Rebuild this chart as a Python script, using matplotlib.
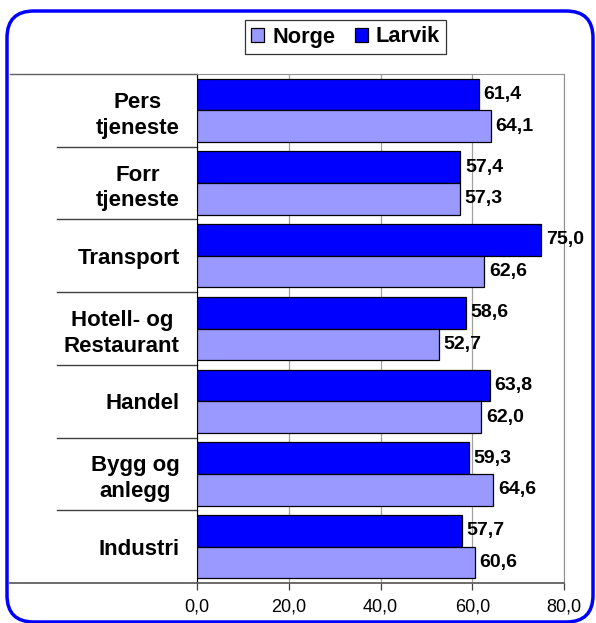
import matplotlib
matplotlib.use("Agg")
import matplotlib.pyplot as plt
from matplotlib.patches import FancyBboxPatch
from matplotlib.lines import Line2D
import numpy as np

plt.rcParams['font.family'] = ['Liberation Sans', 'DejaVu Sans']

categories = ["Pers\ntjeneste", "Forr\ntjeneste", "Transport", "Hotell- og\nRestaurant",
              "Handel", "Bygg og\nanlegg", "Industri"]
larvik = [61.4, 57.4, 75.0, 58.6, 63.8, 59.3, 57.7]
norge = [64.1, 57.3, 62.6, 52.7, 62.0, 64.6, 60.6]
xticks = [0, 20, 40, 60, 80]
xticklabels = ["0,0", "20,0", "40,0", "60,0", "80,0"]

W, H = 596, 623
L, R, T, B = 197, 564, 74, 583
fig = plt.figure(figsize=(W / 100, H / 100), dpi=100)
ax = fig.add_axes([L / W, 1 - B / H, (R - L) / W, (B - T) / H])

n = len(categories)
pos = np.arange(n)[::-1]  # top category at highest y
h = 0.435
ax.barh(pos + h / 2, larvik, height=h, color="#0000FF", edgecolor="black", linewidth=0.9,
        label="Larvik", zorder=3)
ax.barh(pos - h / 2, norge, height=h, color="#9999FF", edgecolor="black", linewidth=0.9,
        label="Norge", zorder=3)

def fmt(v):
    return f"{v:.1f}".replace(".", ",")

for p, v in zip(pos, larvik):
    ax.text(v + 1.0, p + h / 2, fmt(v), va="center", ha="left", fontsize=14,
            fontweight="bold", zorder=4)
for p, v in zip(pos, norge):
    ax.text(v + 1.0, p - h / 2, fmt(v), va="center", ha="left", fontsize=14,
            fontweight="bold", zorder=4)

ax.set_xlim(0, 80)
ax.set_ylim(-0.5, n - 0.5)
ax.set_xticks(xticks)
ax.set_xticklabels(xticklabels, fontsize=13)
ax.xaxis.grid(True, color="#A0A0A0", linewidth=0.9, zorder=0)

# category labels
ax.set_yticks(pos)
ax.set_yticklabels(categories, fontsize=16, fontweight="bold", ha="right",
                   multialignment="center", linespacing=1.3)
ax.tick_params(axis="y", length=0, pad=12.5)
ax.tick_params(axis="x", length=5, width=0.9, direction="out", pad=6, color="#404040")

# category divider lines extending to the left
ytr = ax.get_yaxis_transform()
x_div = (57 - L) / (R - L)
x_edge = (10 - L) / (R - L)
for b in np.arange(0.5, n - 1, 1.0):
    ax.add_line(Line2D([x_div, 0], [b, b], transform=ytr, color="#404040",
                       linewidth=1.0, clip_on=False, zorder=1))
ax.add_line(Line2D([x_edge, 0], [n - 0.5, n - 0.5], transform=ytr, color="#606060",
                   linewidth=1.0, clip_on=False, zorder=1))
ax.add_line(Line2D([x_edge, 0], [-0.5, -0.5], transform=ytr, color="#606060",
                   linewidth=1.3, clip_on=False, zorder=1))

for s in ["top", "right"]:
    ax.spines[s].set_color("#909090")
ax.spines["left"].set_color("black")
ax.spines["bottom"].set_color("#606060")
ax.spines["bottom"].set_linewidth(1.3)

handles, labels = ax.get_legend_handles_labels()
leg = fig.legend(handles[::-1], labels[::-1], loc="center",
                 bbox_to_anchor=(345.5 / W, 1 - 37 / H),
                 ncol=2, frameon=True, fancybox=False, edgecolor="black",
                 prop={"size": 15.7, "weight": "bold"}, handlelength=0.6, handleheight=0.6,
                 handletextpad=0.35, columnspacing=0.9, borderpad=0.3, borderaxespad=0)
leg.get_frame().set_linewidth(0.9)

frame = FancyBboxPatch((7 / W, 1 / H), (593 - 7) / W, (612 - 1) / H,
                       boxstyle="round,pad=0,rounding_size=0.045",
                       transform=fig.transFigure, fill=False, edgecolor="#0000FF",
                       linewidth=2.5, mutation_aspect=W / H, clip_on=False)
fig.patches.append(frame)

fig.savefig("out.png", dpi=100)
